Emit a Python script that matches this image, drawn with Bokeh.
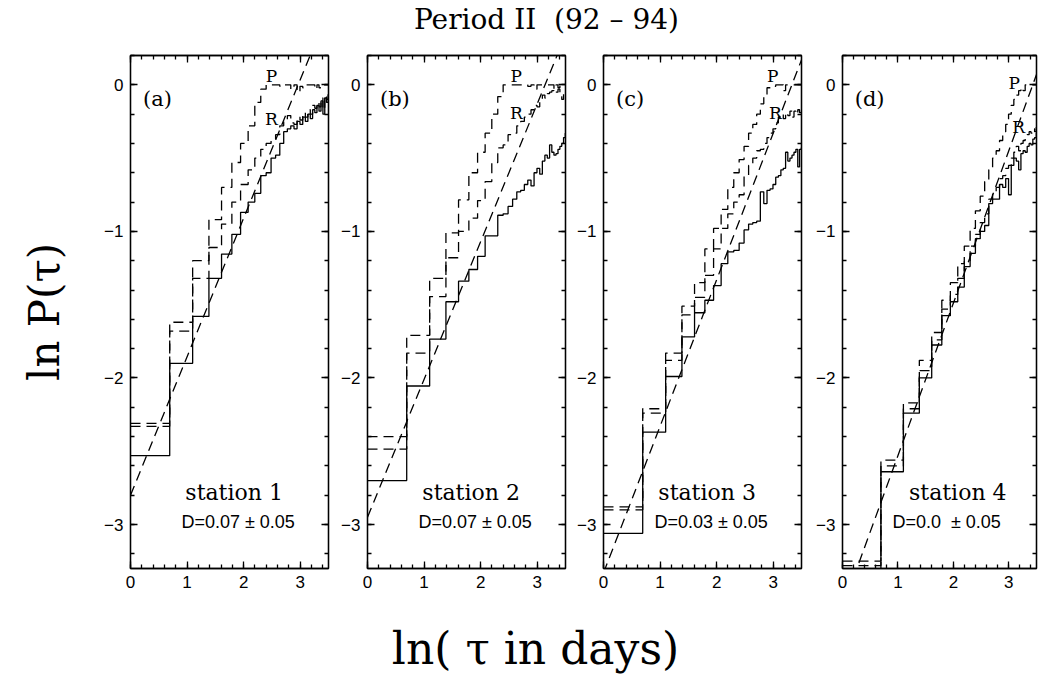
import math
from bokeh.plotting import figure
from bokeh.layouts import column, row
from bokeh.models import Range1d, LinearAxis, FixedTicker
from bokeh.core.properties import value
from bokeh.embed import file_html
from bokeh.resources import INLINE

# ---------------- data ----------------
taus = list(range(1, 34))  # tau in days (x = ln tau)

solid_a = [-2.53, -1.90, -1.58, -1.32, -1.155, -1.02, -0.87, -0.80, -0.74, -0.62, -0.60,
           -0.50, -0.48, -0.40, -0.32, -0.30, -0.28, -0.30, -0.25, -0.27, -0.22, -0.25,
           -0.20, -0.23, -0.17, -0.19, -0.14, -0.18, -0.11, -0.20, -0.09, -0.12, -0.07]
p_a = [-2.31, -1.62, -1.20, -0.92, -0.70, -0.53, -0.40, -0.28, -0.12, -0.03, 0.0,
       0.0, 0.0, -0.01, 0.0, 0.0, -0.03, 0.0, -0.05, -0.01, -0.02, 0.0,
       0.0, 0.0, 0.0, -0.03, 0.0, -0.02, 0.0, 0.0, 0.0, 0.0, 0.0]
r_a = [-2.33, -1.68, -1.32, -1.11, -0.95, -0.80, -0.68, -0.58, -0.50, -0.44, -0.40,
       -0.38, -0.34, -0.28, -0.24, -0.21, -0.26, -0.27, -0.22, -0.24, -0.19, -0.22,
       -0.17, -0.20, -0.14, -0.16, -0.12, -0.15, -0.09, -0.17, -0.07, -0.10, -0.05]

solid_b = [-2.70, -2.055, -1.735, -1.48, -1.34, -1.26, -1.17, -1.03, -1.03, -0.89, -0.88,
           -0.83, -0.78, -0.73, -0.72, -0.68, -0.65, -0.69, -0.60, -0.57, -0.61, -0.52,
           -0.48, -0.50, -0.41, -0.46, -0.48, -0.47, -0.44, -0.42, -0.40, -0.36, -0.33]
p_b = [-2.40, -1.71, -1.32, -1.01, -0.785, -0.60, -0.46, -0.33, -0.20, -0.08, 0.0,
       0.0, 0.0, 0.0, 0.0, 0.0, -0.01, 0.0, -0.03, 0.0, 0.0, 0.0,
       0.0, 0.0, 0.0, 0.0, -0.03, 0.0, -0.02, 0.0, 0.0, 0.0, 0.0]
r_b = [-2.485, -1.83, -1.445, -1.18, -1.00, -0.91, -0.79, -0.66, -0.53, -0.43, -0.41,
       -0.34, -0.33, -0.28, -0.25, -0.22, -0.20, -0.17, -0.14, -0.15, -0.10, -0.07,
       -0.09, -0.06, -0.05, -0.04, -0.06, -0.05, -0.03, -0.08, -0.10, -0.06, -0.04]

solid_c = [-3.06, -2.37, -1.99, -1.72, -1.555, -1.47, -1.37, -1.22, -1.14, -1.13, -1.08,
           -0.99, -0.95, -0.94, -0.93, -0.73, -0.81, -0.72, -0.71, -0.68, -0.63, -0.62,
           -0.58, -0.57, -0.46, -0.52, -0.50, -0.48, -0.46, -0.44, -0.56, -0.44, -0.43]
p_c = [-2.88, -2.21, -1.83, -1.51, -1.35, -1.12, -0.98, -0.85, -0.70, -0.60, -0.51,
       -0.42, -0.33, -0.27, -0.20, -0.13, -0.07, -0.02, -0.02, -0.01, 0.0, 0.0,
       0.0, -0.04, 0.0, 0.0, 0.0, 0.0, 0.0, 0.0, 0.0, 0.0, 0.0]
r_c = [-2.90, -2.24, -1.88, -1.57, -1.45, -1.30, -1.12, -0.98, -0.88, -0.80, -0.75,
       -0.62, -0.55, -0.50, -0.45, -0.44, -0.40, -0.36, -0.33, -0.30, -0.26, -0.22,
       -0.20, -0.23, -0.19, -0.21, -0.18, -0.22, -0.18, -0.20, -0.17, -0.19, -0.18]

solid_d = [-3.50, -2.64, -2.24, -2.00, -1.775, -1.575, -1.48, -1.38, -1.24, -1.15, -1.05,
           -1.00, -0.96, -0.81, -0.78, -0.78, -0.68, -0.70, -0.64, -0.75, -0.55, -0.50,
           -0.52, -0.58, -0.47, -0.45, -0.46, -0.42, -0.40, -0.41, -0.37, -0.36, -0.33]
p_d = [-3.25, -2.56, -2.17, -1.88, -1.69, -1.47, -1.35, -1.22, -1.10, -0.98, -0.86,
       -0.76, -0.66, -0.58, -0.50, -0.45, -0.38, -0.32, -0.27, -0.20, -0.14, -0.10,
       -0.07, -0.04, -0.02, -0.04, 0.0, 0.0, 0.0, 0.0, 0.0, 0.0, 0.0]
r_d = [-3.28, -2.60, -2.21, -1.95, -1.74, -1.53, -1.43, -1.32, -1.20, -1.10, -1.02,
       -0.94, -0.88, -0.78, -0.73, -0.70, -0.64, -0.62, -0.57, -0.55, -0.50, -0.46,
       -0.42, -0.45, -0.40, -0.38, -0.36, -0.34, -0.32, -0.33, -0.30, -0.32, -0.28]

fit_intercepts = [-2.80, -2.95, -3.33, -3.57]
fit_slopes = [0.945, 0.94, 1.00, 1.04]

panel_tags = ["(a)", "(b)", "(c)", "(d)"]
station_names = ["station 1", "station 2", "station 3", "station 4"]
d_texts = ["D=0.07 ± 0.05", "D=0.07 ± 0.05", "D=0.03 ± 0.05", "D=0.0\u00a0 ± 0.05"]

x_ticks = [0, 1, 2, 3]
x_tick_labels = ["0", "1", "2", "3"]
y_ticks = [0, -1, -2, -3]
y_tick_labels = ["0", "−1", "−2", "−3"]

title_text = "Period II\u00a0 (92 – 94)"
x_label = "ln( τ in days)"
y_label = "ln P(τ)"

solids = [solid_a, solid_b, solid_c, solid_d]
ps = [p_a, p_b, p_c, p_d]
rs = [r_a, r_b, r_c, r_d]

# ---------------- layout / style ----------------
X_RANGE = (0, 3.5)
Y_RANGE = (-3.3, 0.2)
PAGE_W = 1038
TITLE_H = 48
PANEL_H = 552
XLABEL_H = 74
widths = [332, 237, 236, 233]
borders_left = [130, 35, 34, 37]
borders_right = [4, 4, 4, 2]
station_x = [0.97, 0.97, 0.97, 1.2]
p_pos = [(2.49, 0.06), (2.63, 0.06), (2.99, 0.06), (3.10, 0.01)]
r_pos = [(2.49, -0.23), (2.63, -0.19), (3.04, -0.19), (3.18, -0.29)]

SERIF = "DejaVu Serif"
SANS = "Liberation Sans"
LW = 1.3
DASH = "10 6"

x_minor = [round(0.2 * k, 1) for k in range(0, 18)]
y_minor = [round(0.2 * k, 1) for k in range(-16, 2)]


def style_axis(ax, ticks, minor, labels):
    ax.ticker = FixedTicker(ticks=ticks, minor_ticks=minor)
    ax.major_tick_in = 7
    ax.major_tick_out = 0
    ax.minor_tick_in = 4
    ax.minor_tick_out = 0
    ax.axis_line_color = "black"
    ax.axis_line_width = LW
    ax.major_tick_line_color = "black"
    ax.major_tick_line_width = LW
    ax.minor_tick_line_color = "black"
    ax.minor_tick_line_width = LW
    if labels is None:
        ax.major_label_overrides = {t: "" for t in ticks}
        ax.major_label_text_font_size = "0px"
        ax.major_label_standoff = 0
    else:
        ax.major_label_overrides = {t: l for t, l in zip(ticks, labels)}
        ax.major_label_text_font = SANS
        ax.major_label_text_font_size = "17px"
        ax.major_label_text_color = "black"
        ax.major_label_standoff = 7


def step_xy(vals):
    xs = [math.log(t) for t in taus] + [math.log(taus[-1] + 1)]
    ys = list(vals) + [vals[-1]]
    return xs, ys


panels = []
for i in range(4):
    p = figure(width=widths[i], height=PANEL_H,
               x_range=Range1d(*X_RANGE), y_range=Range1d(*Y_RANGE),
               output_backend="svg", toolbar_location=None,
               min_border_left=borders_left[i], min_border_right=borders_right[i],
               min_border_top=7, min_border_bottom=32)
    p.grid.visible = False
    p.outline_line_color = "black"
    p.outline_line_width = LW
    p.background_fill_color = "white"
    p.border_fill_color = "white"

    style_axis(p.xaxis[0], x_ticks, x_minor, x_tick_labels)
    style_axis(p.yaxis[0], y_ticks, y_minor, y_tick_labels)
    top = LinearAxis()
    style_axis(top, x_ticks, x_minor, None)
    p.add_layout(top, "above")
    right = LinearAxis()
    style_axis(right, y_ticks, y_minor, None)
    p.add_layout(right, "right")

    if i == 0:
        ax = p.yaxis[0]
        ax.axis_label = y_label
        ax.axis_label_text_font = SERIF
        ax.axis_label_text_font_size = "42px"
        ax.axis_label_text_font_style = "normal"
        ax.axis_label_text_color = "black"
        ax.axis_label_standoff = 32

    # curves
    xs, ys = step_xy(solids[i])
    p.step(xs, ys, mode="after", line_color="black", line_width=LW)
    xs, ys = step_xy(ps[i])
    p.step(xs, ys, mode="after", line_color="black", line_width=LW, line_dash=DASH)
    xs, ys = step_xy(rs[i])
    p.step(xs, ys, mode="after", line_color="black", line_width=LW, line_dash=DASH)

    fx = [X_RANGE[0], X_RANGE[1]]
    fy = [fit_intercepts[i] + fit_slopes[i] * v for v in fx]
    p.line(fx, fy, line_color="black", line_width=LW, line_dash=DASH)

    # labels
    p.text(x=[0.22], y=[-0.1], text=[panel_tags[i]], text_font=value(SERIF),
           text_font_size="21px", text_align="left", text_baseline="middle",
           text_color="black")
    p.text(x=[station_x[i]], y=[-2.78], text=[station_names[i]], text_font=value(SERIF),
           text_font_size="22px", text_align="left", text_baseline="middle",
           text_color="black")
    p.text(x=[0.9], y=[-2.98], text=[d_texts[i]], text_font=value(SANS),
           text_font_size="18px", text_align="left", text_baseline="middle",
           text_color="black")
    p.text(x=[p_pos[i][0], r_pos[i][0]], y=[p_pos[i][1], r_pos[i][1]], text=["P", "R"],
           text_font=value(SERIF), text_font_size="17px", text_align="center",
           text_baseline="middle", text_color="black")
    panels.append(p)


def text_fig(h, txt, x, y, size):
    f = figure(width=PAGE_W, height=h, x_range=Range1d(0, PAGE_W), y_range=Range1d(0, h),
               output_backend="svg", toolbar_location=None,
               x_axis_location=None, y_axis_location=None, min_border=0)
    f.grid.visible = False
    f.outline_line_color = None
    f.text(x=[x], y=[y], text=[txt], text_font=value(SERIF), text_font_size=size,
           text_align="center", text_baseline="middle", text_color="black")
    return f


title_fig = text_fig(TITLE_H, title_text, 546, 29, "28px")
xlabel_fig = text_fig(XLABEL_H, x_label, 535, 26, "44px")

layout = column(title_fig, row(*panels), xlabel_fig)
open("out.html", "w").write(file_html(layout, INLINE))
